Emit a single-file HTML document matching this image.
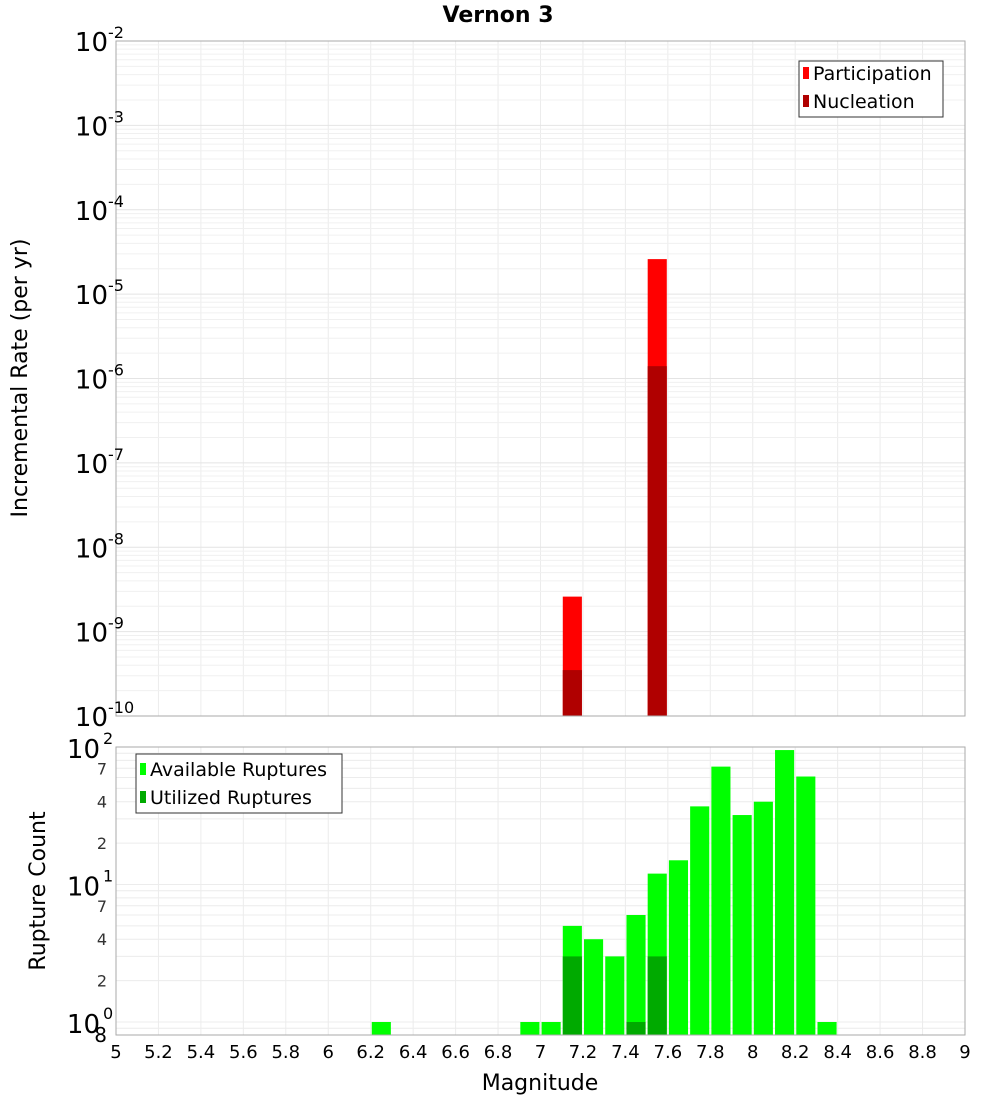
<!DOCTYPE html>
<html><head><meta charset="utf-8"><style>
body{margin:0;background:#fff;font-family:"Liberation Sans","DejaVu Sans",sans-serif}
svg{display:block}
</style></head><body>
<svg id="c" width="1000" height="1100" xmlns="http://www.w3.org/2000/svg" font-family="DejaVu Sans, Liberation Sans, sans-serif">
<text x="498" y="22" text-anchor="middle" font-size="22" font-weight="bold">Vernon 3</text>
<g id="top"></g>
<g id="bot"></g>
<text transform="translate(27,378) rotate(-90)" text-anchor="middle" font-size="22">Incremental Rate (per yr)</text>
<text transform="translate(45,891) rotate(-90)" text-anchor="middle" font-size="22">Rupture Count</text>
<text x="540" y="1090" text-anchor="middle" font-size="22">Magnitude</text>
<g>
<rect x="799" y="61" width="144" height="56" fill="#fff" stroke="#333"/>
<rect x="803" y="67" width="6" height="12" fill="#ff0000"/>
<text x="813" y="80" font-size="19">Participation</text>
<rect x="803" y="95" width="6" height="12" fill="#b00000"/>
<text x="813" y="108" font-size="19">Nucleation</text>
</g>
<g>
<rect x="136" y="754" width="206" height="59" fill="#fff" stroke="#333"/>
<rect x="140" y="763" width="6" height="12" fill="#00ff00"/>
<text x="150" y="776" font-size="19">Available Ruptures</text>
<rect x="140" y="791" width="6" height="12" fill="#00aa00"/>
<text x="150" y="804" font-size="19">Utilized Ruptures</text>
</g>
</svg>
<script>
const rateMags=[7.15,7.55];
const participation=[2.6e-9,2.6e-5];
const nucleation=[3.5e-10,1.4e-6];
const countMags=[6.25,6.95,7.05,7.15,7.25,7.35,7.45,7.55,7.65,7.75,7.85,7.95,8.05,8.15,8.25,8.35];
const available=[1,1,1,5,4,3,6,12,15,37,72,32,40,95,61,1];
const utilized=[0,0,0,3,0,0,1,3,0,0,0,0,0,0,0,0];
const xTicks=[5,5.2,5.4,5.6,5.8,6,6.2,6.4,6.6,6.8,7,7.2,7.4,7.6,7.8,8,8.2,8.4,8.6,8.8,9];
const rateExps=[-2,-3,-4,-5,-6,-7,-8,-9,-10];

const NS="http://www.w3.org/2000/svg";
const X0=116,X1=965;
const xs=m=>X0+(m-5)/4*(X1-X0);
const T0=41,T1=716;
const yTop=v=>T0+(-2-Math.log10(v))*(T1-T0)/8;
const B0=747,B1=1035,BD=137.5;
const yBot=v=>B0+(2-Math.log10(v))*BD;
function mk(p,tag,a){const e=document.createElementNS(NS,tag);for(const k in a)e.setAttribute(k,a[k]);p.appendChild(e);return e;}
const topG=document.getElementById('top'),botG=document.getElementById('bot');
mk(topG,'rect',{x:X0,y:T0,width:X1-X0,height:T1-T0,fill:'#fff'});
mk(botG,'rect',{x:X0,y:B0,width:X1-X0,height:B1-B0,fill:'#fff'});
for(const t of xTicks){
 const g1=mk(topG,'line',{x1:xs(t),x2:xs(t),y1:T0,y2:T1,stroke:'#ececec'});
 
 
 mk(botG,'line',{x1:xs(t),x2:xs(t),y1:B0,y2:B1,stroke:'#ececec'});
}
for(let e=-10;e<-2;e++)for(let k=1;k<10;k++){const yy=yTop(k*Math.pow(10,e));
 mk(topG,'line',{x1:X0,x2:X1,y1:yy,y2:yy,stroke:k==1?'#e4e4e4':'#f0f0f0'});}
for(let e=-1;e<2;e++)for(let k=1;k<10;k++){const yy=yBot(k*Math.pow(10,e));
 if(yy>B1||yy<B0)continue;mk(botG,'line',{x1:X0,x2:X1,y1:yy,y2:yy,stroke:'#ececec'});}
const bw=0.09;
rateMags.forEach((m,i)=>{
 let r=mk(topG,'rect',{x:xs(m-bw/2),y:yTop(participation[i]),width:xs(m+bw/2)-xs(m-bw/2),height:T1-yTop(participation[i]),fill:'#ff0000'});
 
 
 r=mk(topG,'rect',{x:xs(m-bw/2),y:yTop(nucleation[i]),width:xs(m+bw/2)-xs(m-bw/2),height:T1-yTop(nucleation[i]),fill:'#b00000'});
 
 
});
countMags.forEach((m,i)=>{
 let r=mk(botG,'rect',{x:xs(m-bw/2),y:yBot(available[i]),width:xs(m+bw/2)-xs(m-bw/2),height:B1-yBot(available[i]),fill:'#00ff00'});
 
 
 if(utilized[i]>0){r=mk(botG,'rect',{x:xs(m-bw/2),y:yBot(utilized[i]),width:xs(m+bw/2)-xs(m-bw/2),height:B1-yBot(utilized[i]),fill:'#00aa00'});
 
 }
});
mk(topG,'rect',{x:X0,y:T0,width:X1-X0,height:T1-T0,fill:'none',stroke:'#aaa'});
mk(botG,'rect',{x:X0,y:B0,width:X1-X0,height:B1-B0,fill:'none',stroke:'#aaa'});
for(const e of rateExps){const yy=yTop(Math.pow(10,e));
 const t=mk(topG,'text',{x:108,y:yy+10,'text-anchor':'end','font-size':26});t.textContent='10';
 
 
 const s=mk(topG,'text',{x:108,y:yy-3,'font-size':16});s.textContent=String(e);}
[[100,'10','2'],[10,'10','1'],[1,'10','0']].forEach(([v,b,p])=>{const yy=yBot(v);
 const t=mk(botG,'text',{x:100,y:yy+11,'text-anchor':'end','font-size':26});t.textContent=b;
 
 
 mk(botG,'text',{x:103,y:yy-3,'font-size':16}).textContent=p;});
[70,40,20,7,4,2].forEach(v=>{const t=mk(botG,'text',{x:107,y:yBot(v)+6,'text-anchor':'end','font-size':16,fill:'#333'});t.textContent=String(v).replace('0','');});
mk(botG,'text',{x:107,y:1042,'text-anchor':'end','font-size':20}).textContent='8';
xTicks.forEach(t=>{const e=mk(botG,'text',{x:xs(t),y:1058,'text-anchor':'middle','font-size':18});e.textContent=String(t);
 
 });
</script>
</body></html>
